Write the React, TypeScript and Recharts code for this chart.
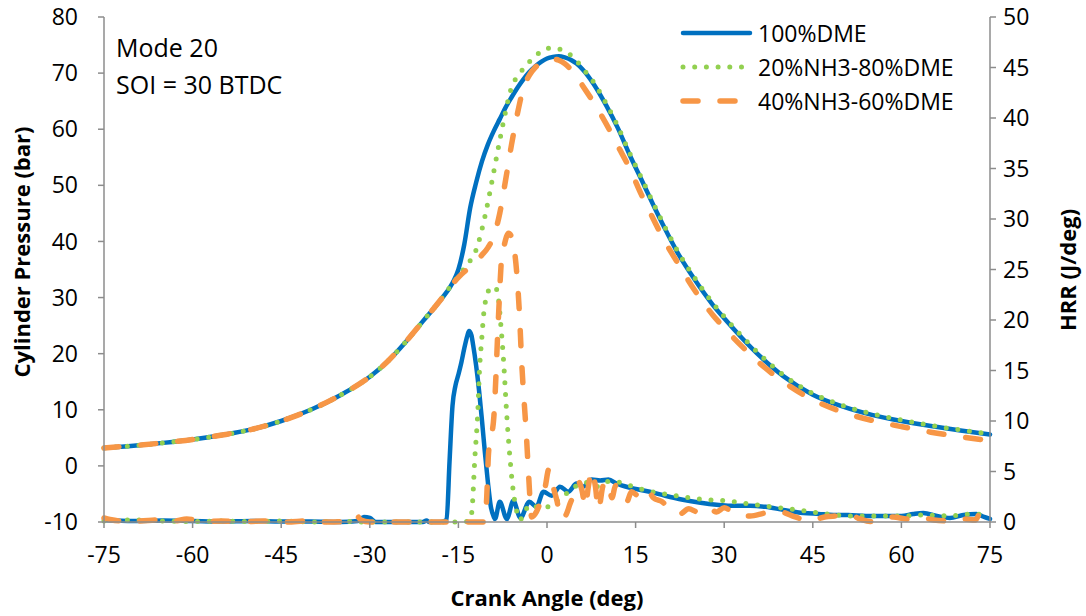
import { Legend, Line, LineChart, XAxis, YAxis } from "recharts";

// crank angle grid for the three pressure traces (deg)
const pAngle = [
  -75, -70, -65, -60, -55, -50, -45, -40, -35, -30, -27, -24, -21, -18, -16, -15,
  -14, -13, -12, -11, -10, -9, -8, -7, -6, -5, -4, -3, -2, -1, 0, 1, 2, 3, 4, 5, 6,
  8, 10, 12, 14, 16, 18, 20, 22, 25, 28, 30, 33, 36, 40, 45, 50, 55, 60, 65, 70, 75
];

// cylinder pressure (bar)
const pDME = [
  3.2, 3.6, 4.1, 4.7, 5.5, 6.5, 8.0, 10.0, 12.6, 15.9, 18.6, 22.0, 25.8, 29.6, 32.6, 35.0,
  39.5, 46.0, 50.5, 54.3, 57.3, 59.7, 61.8, 63.9, 65.7, 67.4, 68.9, 70.2, 71.2, 72.0, 72.6, 72.9, 73.0, 72.8, 72.4, 71.7, 70.7,
  67.9, 64.3, 60.2, 55.4, 51.0, 46.5, 42.2, 38.2, 33.2, 28.8, 26.3, 22.8, 19.6, 16.0, 12.7, 10.6, 9.1, 8.0, 7.1, 6.3, 5.6
];
const pNH20 = [
  3.2, 3.6, 4.1, 4.7, 5.5, 6.5, 8.0, 10.0, 12.6, 15.9, 18.6, 22.0, 25.8, 29.6, 32.5, 33.8,
  35.2, 36.6, 38.5, 42.2, 47.0, 52.5, 58.0, 63.2, 67.5, 69.4, 70.8, 72.0, 73.0, 73.9, 74.4, 74.5, 74.3, 73.9, 73.2, 72.2, 70.9,
  68.2, 64.6, 60.5, 55.7, 51.3, 46.8, 42.5, 38.5, 33.5, 29.1, 26.6, 23.1, 19.9, 16.2, 12.9, 10.8, 9.3, 8.2, 7.2, 6.4, 5.7
];
const pNH40 = [
  3.2, 3.6, 4.1, 4.7, 5.5, 6.5, 8.0, 10.0, 12.6, 15.9, 18.6, 22.0, 25.8, 29.6, 32.4, 33.6,
  34.6, 35.4, 36.5, 37.6, 38.9, 41.0, 45.0, 51.0, 57.3, 62.8, 67.3, 69.6, 71.0, 71.8, 72.3, 72.5, 72.3, 71.7, 70.7, 69.4, 67.8,
  64.6, 61.0, 57.0, 53.0, 48.3, 44.0, 39.9, 36.4, 31.3, 27.0, 24.6, 21.3, 18.3, 15.0, 11.8, 9.6, 8.1, 7.0, 6.0, 5.2, 4.5
];

// heat release rate (J/deg)
const hAngleDME = [
  -75, -70, -65, -60, -55, -50, -45, -40, -35, -32, -31, -30, -29, -25, -21, -20.4, -20,
  -18, -17, -16.5, -16, -15.5, -15, -14.5, -14, -13.5, -13.2, -12.8, -12.5, -12, -11.5,
  -11, -10.5, -10, -9.5, -9, -8.8, -8, -6.8, -5.7, -4.5, -3, -1.8, -0.6, 0.8, 2.2, 3.6,
  5, 6.1, 7.6, 9, 10.4, 11.8, 14, 17.4, 20, 23, 26, 28.7, 31, 34.4, 37, 40, 43.4, 46,
  48.5, 51, 54, 57, 60, 62, 63.7, 66, 68.2, 70.5, 72.7, 74, 75
];
const hDME = [
  0.2, 0.1, 0.15, 0.1, 0.05, 0.1, 0.05, 0.05, 0, 0.1, 0.5, 0.4, 0, 0, 0, 0.15, 0,
  0, 0.2, 6.0, 11.5, 13.5, 14.6, 15.8, 17.2, 18.4, 18.9, 18.5, 17.5, 15.5, 13.0,
  10.0, 6.8, 3.9, 1.5, 0.5, 0.3, 2.0, 0.3, 2.1, 0.4, 2.0, 1.5, 3.0, 2.6, 3.5, 3.0,
  3.8, 3.5, 4.2, 4.1, 4.2, 3.8, 3.4, 3.0, 2.6, 2.2, 1.9, 1.7, 1.6, 1.6, 1.5, 1.2, 0.9, 0.8,
  0.7, 0.7, 0.6, 0.6, 0.6, 0.8, 0.9, 0.6, 0.4, 0.7, 0.8, 0.5, 0.3
];

const hAngleNH20 = [
  -75, -70, -65, -60, -55, -50, -45, -40, -35, -30, -25, -20, -15, -13.2, -12.75, -12.2,
  -11.7, -11.45, -11.05, -10.7, -10.2, -9.65, -8.8, -8.2, -7.8, -7.4, -6.8, -6.1, -5.7,
  -5.1, -4.6, -3.7, -2.9, -2, 0.5, 2, 3.6, 5, 6.7, 8.4, 10, 11.5, 13.5, 17, 20.8, 24, 27,
  30.4, 34, 38, 42.3, 46, 51.3, 56, 60, 63.7, 68, 72, 75
];
const hNH20 = [
  0.1, 0.2, 0.1, 0.05, 0.1, 0.05, 0.1, 0, 0.05, 0, 0, 0, 0, 0.1, 0.9, 6.5,
  11.1, 14.8, 18.1, 20.7, 22.4, 23.1, 23.3, 22.0, 19.4, 16.4, 10.5, 5.2, 3.0,
  1.0, 0.2, 1.1, 1.7, 1.5, 1.5, 2.2, 2.95, 3.6, 3.9, 3.5, 4.0, 4.0, 3.7, 3.1, 2.7, 2.4, 2.2,
  2.1, 1.8, 1.5, 1.2, 0.9, 0.6, 0.6, 0.6, 0.7, 0.6, 0.8, 0.6
];

const hAngleNH40 = [
  -75, -74, -72, -71, -69, -66, -63, -61, -58, -55, -52, -48, -44, -40.7, -37, -33, -32.2,
  -31.5, -30, -25, -20, -15, -11, -10.5, -10.2, -9.9, -9.0, -8.2, -7.7, -7.2, -6.5, -5.8,
  -5.1, -4.7, -4.3, -3.45, -3.1, -2.6, -1.8, -1.0, -0.3, 0.3, 0.9, 1.6, 2.5, 3.3, 3.9,
  4.6, 5.3, 5.9, 6.5, 7.0, 7.6, 8.2, 8.7, 9.5, 10.3, 11.0, 11.6, 12.5, 13.5, 14.3, 15.5,
  16.9, 18.0, 19.5, 21.0, 22.5, 24.0, 25.5, 27.0, 28.7, 30.0, 32.0, 34.4, 37.0, 39.4,
  42.0, 44.5, 47.0, 49.0, 51.3, 53.0, 54.7, 56.5, 58.6, 61.0, 63.1, 65.5, 68.2, 70.5,
  72.5, 73.3, 74.4, 75
];
const hNH40 = [
  0.4, 0.25, 0.1, 0.35, 0.1, 0.2, 0.1, 0.3, 0.05, 0.1, 0, 0.1, 0, 0.1, 0, 0.1, 0.6,
  0.2, 0, 0, 0, 0, 0, 0, 2.5, 6.8, 10.4, 20.5, 26.0, 27.5, 28.6, 27.8,
  24.5, 21.0, 16.0, 8.2, 4.5, 0.5, 1.0, 2.2, 3.5, 5.2, 3.8, 2.3, 0.3, 0.8, 1.8,
  2.8, 4.0, 3.2, 1.5, 3.5, 5.1, 3.5, 1.2, 3.6, 4.0, 2.4, 3.6, 3.0, 2.0, 3.0, 2.6,
  3.3, 2.4, 2.0, 1.2, 0.8, 1.3, 1.0, 1.5, 1.0, 1.4, 0.8, 0.6, 0.9, 1.0,
  0.5, 0.1, 0.5, 0.6, 0.7, 0.3, 0.05, 0.4, 0.5, 0.3, 0.5, 0.2, 0.1, 0.3,
  0.2, 0.8, 0.1, 0
];

const xTicks = [-75, -60, -45, -30, -15, 0, 15, 30, 45, 60, 75];
const pTicks = [-10, 0, 10, 20, 30, 40, 50, 60, 70, 80];
const hTicks = [0, 5, 10, 15, 20, 25, 30, 35, 40, 45, 50];

const fuels = ["100%DME", "20%NH3-80%DME", "40%NH3-60%DME"];

const BLUE = "#0070C0";
const GREEN = "#92D050";
const ORANGE = "#F79646";
const AXIS = "#8c8c8c";
const FONT = "'Open Sans', sans-serif";

const toPts = (a: number[], v: number[]) => a.map((x, i) => ({ x, y: v[i] }));

const styles = [
  { stroke: BLUE, strokeWidth: 4.5, strokeDasharray: undefined as string | undefined },
  { stroke: GREEN, strokeWidth: 5, strokeDasharray: "0 11.7" },
  { stroke: ORANGE, strokeWidth: 5.5, strokeDasharray: "15 22" }
];

function LegendBox() {
  return (
    <div style={{ fontFamily: FONT, fontSize: 23, color: "#000", lineHeight: "34px" }}>
      {fuels.map((name, i) => (
        <div key={name} style={{ display: "flex", alignItems: "center", height: 34 }}>
          <svg width={78} height={34} style={{ display: "block" }}>
            <line
              x1={3}
              x2={70}
              y1={17}
              y2={17}
              stroke={styles[i].stroke}
              strokeWidth={styles[i].strokeWidth}
              strokeDasharray={styles[i].strokeDasharray}
              strokeLinecap="round"
            />
          </svg>
          <span>{name}</span>
        </div>
      ))}
    </div>
  );
}

export default function App() {
  const tick = { fill: "#000", fontSize: 23, fontFamily: FONT };
  const pSeries = [pDME, pNH20, pNH40];
  const hSeries = [
    toPts(hAngleDME, hDME),
    toPts(hAngleNH20, hNH20),
    toPts(hAngleNH40, hNH40)
  ];

  return (
    <div style={{ position: "absolute", left: 0, top: 0, width: 1086, height: 616, background: "#fff", fontFamily: FONT }}>
      <LineChart width={1086} height={616} margin={{ top: 17, right: 0, bottom: 0, left: 0 }}>
        <XAxis
          dataKey="x"
          type="number"
          domain={[-75, 75]}
          ticks={xTicks}
          allowDuplicatedCategory={false}
          height={94}
          tick={tick}
          tickSize={6}
          tickMargin={19}
          stroke={AXIS}
          strokeWidth={1.5}
          interval={0}
        />
        <YAxis
          yAxisId="p"
          orientation="left"
          domain={[-10, 80]}
          ticks={pTicks}
          width={104}
          tick={tick}
          tickSize={6}
          tickMargin={20}
          stroke={AXIS}
          strokeWidth={1.5}
          interval={0}
        />
        <YAxis
          yAxisId="h"
          orientation="right"
          domain={[0, 50]}
          ticks={hTicks}
          width={96}
          tick={tick}
          tickSize={6}
          tickMargin={7}
          stroke={AXIS}
          strokeWidth={1.5}
          interval={0}
        />
        <Legend
          layout="vertical"
          align="center"
          verticalAlign="middle"
          wrapperStyle={{ left: 680, top: 16, width: 320 }}
          content={() => <LegendBox />}
        />
        {fuels.map((name, i) => (
          <Line
            key={"p" + name}
            yAxisId="p"
            data={toPts(pAngle, pSeries[i])}
            dataKey="y"
            name={name}
            type="monotone"
            dot={false}
            activeDot={false}
            strokeLinecap="round"
            {...styles[i]}
            isAnimationActive={false}
          />
        ))}
        {fuels.map((name, i) => (
          <Line
            key={"h" + name}
            yAxisId="h"
            data={hSeries[i]}
            dataKey="y"
            name={name + " HRR"}
            legendType="none"
            type="monotone"
            dot={false}
            activeDot={false}
            strokeLinecap="round"
            {...styles[i]}
            isAnimationActive={false}
          />
        ))}
      </LineChart>
      <svg
        width={1086}
        height={616}
        style={{ position: "absolute", left: 0, top: 0, pointerEvents: "none" }}
        fontFamily={FONT}
      >
        <text x={116} y={57} fontSize={25} fill="#000">Mode 20</text>
        <text x={116} y={94} fontSize={25} fill="#000">SOI = 30 BTDC</text>
        <text x={547} y={606} fontSize={22} fontWeight="bold" textAnchor="middle" fill="#000">
          Crank Angle (deg)
        </text>
        <text
          x={0}
          y={0}
          fontSize={22}
          fontWeight="bold"
          textAnchor="middle"
          fill="#000"
          transform="translate(30,252) rotate(-90)"
        >
          Cylinder Pressure (bar)
        </text>
        <text
          x={0}
          y={0}
          fontSize={22}
          fontWeight="bold"
          textAnchor="middle"
          fill="#000"
          transform="translate(1076,270) rotate(-90)"
        >
          HRR (J/deg)
        </text>
      </svg>
    </div>
  );
}
